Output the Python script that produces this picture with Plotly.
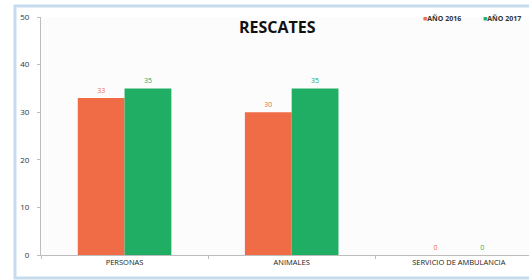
import plotly.graph_objects as go

categories = ["PERSONAS", "ANIMALES", "SERVICIO DE AMBULANCIA"]
series_names = ["AÑO 2016", "AÑO 2017"]
values_2016 = [33, 30, 0]
values_2017 = [35, 35, 0]
y_ticks = [0, 10, 20, 30, 40, 50]

orange = "#ef6c46"
green = "#20ad64"
colors = [orange, green]

fig = go.Figure()
for name, vals, col in zip(series_names, [values_2016, values_2017], colors):
    fig.add_trace(go.Bar(
        x=categories, y=vals, name=name, marker=dict(color=col, line=dict(width=0)),
        text=[str(v) for v in vals], textposition="outside", cliponaxis=False,
        textfont=dict(color=col, size=7, family="Open Sans"),
    ))

W, L, T, H = 488, 41, 17, 238
legend_x = [421, 481]
annotations = [
    dict(text="<b>RESCATES</b>", xref="paper", yref="paper",
         x=(277 - L) / W, y=1 - (27 - T) / H, xanchor="center", yanchor="middle",
         showarrow=False, font=dict(size=16, color="#111111", family="Open Sans")),
]
for n, c, lx in zip(series_names, colors, legend_x):
    annotations.append(dict(
        text=f"<span style='color:{c}'>■</span><b>{n}</b>", xref="paper", yref="paper",
        x=(lx - L) / W, y=1 - (19 - T) / H, xanchor="left", yanchor="middle",
        showarrow=False, font=dict(size=7, color="#333333", family="Open Sans")))

fig.update_layout(
    width=529, height=280,
    margin=dict(l=L, r=0, t=T, b=25, autoexpand=False),
    paper_bgcolor="white", plot_bgcolor="#fcfcfc",
    barmode="group", bargap=0.44, bargroupgap=0,
    font=dict(family="Open Sans", color="#333333"),
    showlegend=False,
    xaxis=dict(range=[-0.5, 2.42], showline=True, linecolor="#bdbdbd", linewidth=1,
               ticks="outside", tickson="boundaries", ticklen=3, tickcolor="#bdbdbd",
               tickfont=dict(size=7.5, color="#222222"), showgrid=False, zeroline=False,
               automargin=False),
    yaxis=dict(range=[0, 50], tickvals=y_ticks, showline=True, linecolor="#bdbdbd", linewidth=1,
               ticks="outside", ticklen=3, tickcolor="#bdbdbd", ticklabelstandoff=6,
               tickfont=dict(size=8, color="#333333"), showgrid=False, zeroline=False,
               automargin=False),
    annotations=annotations,
    shapes=[dict(type="rect", xref="paper", yref="paper",
                 x0=-0.0533, x1=1.2, y0=-0.0966, y1=1.046,
                 line=dict(color="#c6dcee", width=3), layer="below")],
)

fig.write_html("out.html", config={"displayModeBar": False},
               post_script="document.body.style.margin='0';")
